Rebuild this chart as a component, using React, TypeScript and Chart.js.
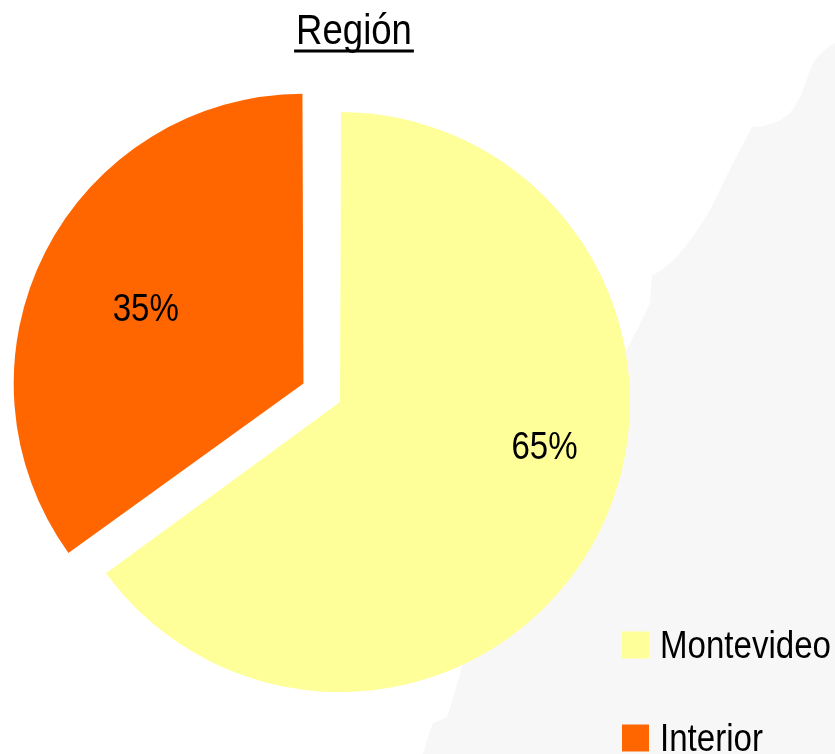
import React, { useEffect, useRef } from "react";
import { Chart, registerables } from "chart.js";

Chart.register(...registerables);

const titleText = "Región";
const categories = ["Montevideo", "Interior"];
const shares = [65, 35];
const sliceColors = ["#FFFF99", "#FF6600"];
const sliceOffsets = [26.9, 137];
// Label anchors relative to each slice's own tip, as fractions of the base radius.
const labelAnchors = [
  [0.722, 0.155],
  [-0.557, -0.265],
];

const FONT = '"Liberation Sans", Arial, sans-serif';
const NARROW = 0.87; // no narrow face is installed, so text is condensed horizontally
const TEXT_DROP = 2.5;
const WATERMARK =
  "M835 43 C826 48 818 55 813 63 C808 76 804 88 800 97 C796 105 792 110 790 113 C784 118 778 122 773 123 C766 126 758 127 752 127 L733 163 L710 210 C700 227 690 241 680 253 C671 263 662 271 652 275 C651 285 651 295 650 303 L637 330 L463 663 C458 682 452 702 447 717 C441 720 437 721 433 723 C429 733 426 743 423 754 L835 754 Z";

const layoutPlugin = {
  id: "layoutTweaks",
  afterLayout(chart: any) {
    const t = chart.titleBlock;
    t.left = 0;
    t.right = 708;
    t.top = 0;
    const l = chart.legend;
    l.left = 575;
    l.top = 571;
    l.bottom = 850;
    Object.assign(chart.chartArea, {
      left: -17.75,
      right: 685.75,
      top: 47.25,
      bottom: 750.75,
      width: 703.5,
      height: 703.5,
    });
  },
  afterDraw(chart: any) {
    const { ctx } = chart;
    ctx.save();
    ctx.font = `42px ${FONT}`;
    const w = ctx.measureText(titleText).width * NARROW;
    ctx.fillStyle = "#000";
    ctx.fillRect(354 - w / 2 - 2, 49.5, w + 4, 3);
    ctx.restore();
  },
};

const sliceLabelPlugin = {
  id: "sliceLabels",
  afterDatasetsDraw(chart: any) {
    const { ctx } = chart;
    const meta = chart.getDatasetMeta(0);
    ctx.save();
    ctx.font = `38px ${FONT}`;
    ctx.fillStyle = "#000";
    ctx.textAlign = "center";
    ctx.textBaseline = "middle";
    meta.data.forEach((arc: any, i: number) => {
      const p = arc.getProps(["x", "y", "outerRadius", "startAngle", "endAngle"], true);
      const mid = (p.startAngle + p.endAngle) / 2;
      const off = sliceOffsets[i] / 4;
      const cx = p.x + Math.cos(mid) * off;
      const cy = p.y + Math.sin(mid) * off;
      ctx.fillText(
        `${shares[i]}%`,
        cx + labelAnchors[i][0] * p.outerRadius,
        cy + labelAnchors[i][1] * p.outerRadius
      );
    });
    ctx.restore();
  },
};

export default function App() {
  const ref = useRef<HTMLCanvasElement>(null);
  useEffect(() => {
    document.body.style.margin = "0";
    document.body.style.background = "#fff";
    const canvas = ref.current!;
    const ctx: any = canvas.getContext("2d");
    const rawFill = ctx.fillText.bind(ctx);
    ctx.fillText = (text: string, x: number, y: number, maxWidth?: number) => {
      ctx.save();
      ctx.translate(x, y + TEXT_DROP);
      ctx.scale(NARROW, 1);
      if (maxWidth === undefined) rawFill(text, 0, 0);
      else rawFill(text, 0, 0, maxWidth / NARROW);
      ctx.restore();
    };
    const chart = new Chart(canvas, {
      type: "pie",
      data: {
        labels: categories,
        datasets: [
          {
            data: shares,
            backgroundColor: sliceColors,
            borderWidth: 0,
            offset: sliceOffsets,
          },
        ],
      },
      options: {
        responsive: false,
        animation: false,
        plugins: {
          tooltip: { enabled: false },
          title: {
            display: true,
            text: titleText,
            color: "#000",
            font: { family: FONT, size: 42, weight: "normal" },
            padding: { top: 5, bottom: 0 },
          },
          legend: {
            display: true,
            position: "right",
            align: "start",
            maxWidth: 149.25,
            labels: {
              color: "#000",
              font: { family: FONT, size: 38 },
              usePointStyle: true,
              pointStyle: "rect",
              boxWidth: 11,
              boxHeight: 27,
              padding: 55,
            },
          },
        },
      },
      plugins: [layoutPlugin, sliceLabelPlugin],
    } as any);
    return () => chart.destroy();
  }, []);
  return (
    <div style={{ position: "relative", width: 835, height: 754, overflow: "hidden" }}>
      <svg width={835} height={754} style={{ position: "absolute", left: 0, top: 0 }}>
        <path d={WATERMARK} fill="#F7F7F7" />
      </svg>
      <canvas ref={ref} width={835} height={754} style={{ position: "absolute", left: 0, top: 0, display: "block" }} />
    </div>
  );
}
